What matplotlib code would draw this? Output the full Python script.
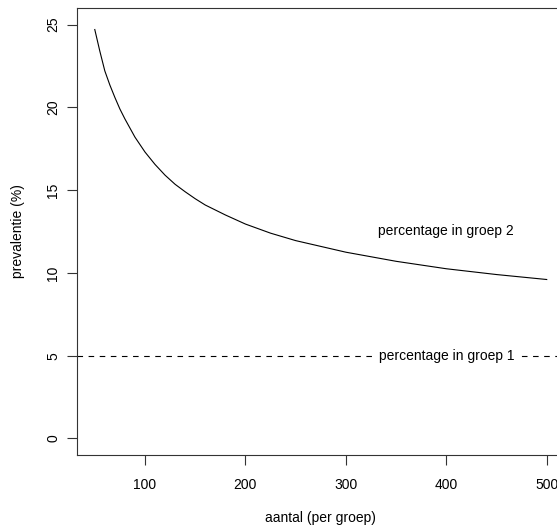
import matplotlib
matplotlib.use("Agg")
import matplotlib.pyplot as plt

plt.rcParams['font.family'] = ['Liberation Sans', 'DejaVu Sans']

n_values = [50, 55, 60, 65, 70, 75, 80, 85, 90, 95, 100, 110, 120, 130, 140,
            150, 160, 180, 200, 225, 250, 275, 300, 350, 400, 450, 500]
prev_group2 = [24.7, 23.4, 22.2, 21.35, 20.6, 19.9, 19.3, 18.75, 18.2, 17.75,
               17.3, 16.55, 15.9, 15.35, 14.9, 14.48, 14.1, 13.5, 12.95, 12.4,
               11.95, 11.6, 11.25, 10.7, 10.25, 9.9, 9.6]
prev_group1 = 5
x_ticks = [100, 200, 300, 400, 500]
y_ticks = [0, 5, 10, 15, 20, 25]
label_g2 = "percentage in groep 2"
label_g1 = "percentage in groep 1"
label_pos_x = 400
label_g2_y = 12.5

W, H = 557, 526
fig = plt.figure(figsize=(W / 100, H / 100), dpi=100)
ax = fig.add_axes([76.7 / W, 1 - 455 / H, (564.8 - 76.7) / W, (455 - 8) / H])

ax.plot(n_values, prev_group2, color='black', lw=0.8)
ax.axhline(prev_group1, color='black', lw=0.8, linestyle=(0, (5, 5)))

fs = 10
ax.text(label_pos_x, label_g2_y, label_g2, ha='center', va='center', fontsize=fs)
ax.text(label_pos_x, prev_group1, label_g1, ha='center', va='center', fontsize=fs,
        bbox=dict(facecolor='white', edgecolor='none', pad=2.5))

ax.set_xlim(32, 518)
ax.set_ylim(-1, 26)
ax.set_xticks(x_ticks)
ax.set_yticks(y_ticks)
ax.set_yticklabels([str(v) for v in y_ticks], rotation=90, va='center')
ax.tick_params(axis='both', direction='out', length=7, width=0.8, labelsize=fs,
               color='#333333')
ax.tick_params(axis='x', pad=9.5)
ax.tick_params(axis='y', pad=5)
for s in ax.spines.values():
    s.set_linewidth(0.8)
    s.set_color('#333333')

ax.set_xlabel("aantal (per groep)", fontsize=fs, labelpad=14)
ax.set_ylabel("prevalentie (%)", fontsize=fs, labelpad=15)

fig.savefig("out.png", dpi=100)
